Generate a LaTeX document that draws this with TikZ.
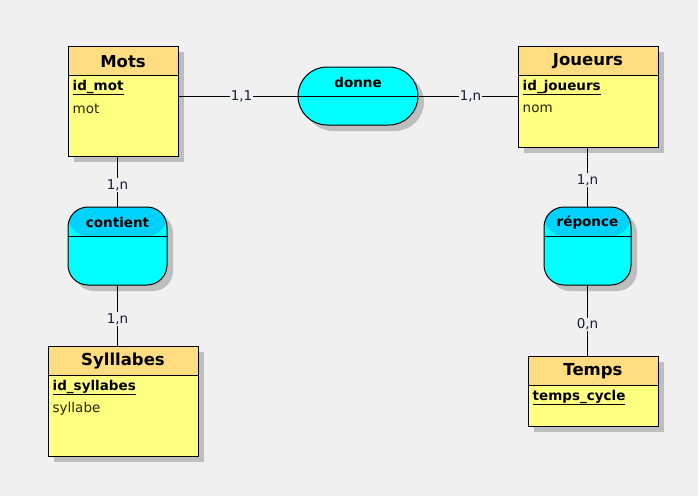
\documentclass[tikz,border=0pt]{standalone}
\usepackage{fontspec}
\setmainfont{DejaVu Sans}
\usetikzlibrary{shadows}
\definecolor{bgc}{HTML}{F0F0F0}
\definecolor{enthead}{HTML}{FFDD80}
\definecolor{entbody}{HTML}{FFFF80}
\definecolor{asshead}{HTML}{00D2FF}
\definecolor{assbody}{HTML}{00FFFF}
\definecolor{shadowc}{HTML}{BEBEBE}
\definecolor{cardc}{HTML}{141C38}
\definecolor{attrc}{HTML}{262600}
\tikzset{
  base/.style={draw=black, line width=1pt, inner sep=0pt,
    drop shadow={shadow xshift=6pt, shadow yshift=-6pt, fill=shadowc, opacity=1}},
  entity/.style={base, fill=entbody,
    path picture={
      \fill[enthead] (path picture bounding box.north west) rectangle ([yshift=-29pt]path picture bounding box.north east);
      \draw[line width=1pt] ([yshift=-29pt]path picture bounding box.north west) -- ([yshift=-29pt]path picture bounding box.north east);
    }},
  assoc/.style={base, fill=assbody,
    path picture={
      \fill[#1] (path picture bounding box.north west) rectangle ([yshift=-29pt]path picture bounding box.north east);
      \draw[line width=1pt] ([yshift=-29pt]path picture bounding box.north west) -- ([yshift=-29pt]path picture bounding box.north east);
    }},
  title/.style={font=\fontsize{16.5}{18}\selectfont\bfseries, inner sep=0pt},
  aname/.style={font=\fontsize{13.5}{15}\selectfont\bfseries, inner sep=0pt},
  key/.style={font=\fontsize{13.5}{15}\selectfont\bfseries, inner sep=0pt, anchor=west},
  attr/.style={font=\fontsize{13.5}{15}\selectfont, text=attrc, inner sep=0pt, anchor=west},
  link/.style={draw=black, line width=1pt},
  card/.style={font=\fontsize{13.5}{15}\selectfont, text=cardc, fill=bgc, inner sep=1pt},
}
\begin{document}
\begin{tikzpicture}[x=1pt, y=-1pt]
\fill[bgc] (0,0) rectangle (698,496);
\useasboundingbox (0,0) rectangle (698,496);

% entities
\node[entity, minimum width=110pt, minimum height=110pt] (mots) at (123,101) {};
\node[entity, minimum width=140pt, minimum height=101pt] (joueurs) at (588,96.5) {};
\node[entity, minimum width=150pt, minimum height=110pt] (syll) at (123,401) {};
\node[entity, minimum width=130pt, minimum height=70pt] (temps) at (593,391) {};

% associations
\node[assoc=assbody, rounded corners=29pt, minimum width=120pt, minimum height=58pt] (donne) at (358,96) {};
\node[assoc=asshead, rounded corners=20pt, minimum width=99pt, minimum height=78pt] (contient) at (117.5,246) {};
\node[assoc=asshead, rounded corners=20pt, minimum width=87pt, minimum height=78pt] (reponce) at (587.5,246) {};

% titles
\node[title] (motsT) at ([yshift=-16pt]mots.north) {Mots};
\node[title] (joueursT) at ([yshift=-16pt]joueurs.north) {Joueurs};
\node[title] (syllT) at ([yshift=-16pt]syll.north) {Sylllabes};
\node[title] (tempsT) at ([yshift=-16pt]temps.north) {Temps};
\node[aname] (donneT) at ([yshift=-15.5pt]donne.north) {donne};
\node[aname] (contientT) at ([yshift=-15.5pt]contient.north) {contient};
\node[aname] (reponceT) at ([yshift=-15.5pt]reponce.north) {réponce};

% attributes
\node[key] (motsK) at ([xshift=5pt,yshift=-42pt]mots.north west) {\underline{id\_mot}};
\node[attr] (motsA) at ([xshift=5pt,yshift=-63pt]mots.north west) {mot};
\node[key] (joueursK) at ([xshift=5pt,yshift=-42pt]joueurs.north west) {\underline{id\_joueurs}};
\node[attr] (joueursA) at ([xshift=5pt,yshift=-63pt]joueurs.north west) {nom};
\node[key] (syllK) at ([xshift=5pt,yshift=-42pt]syll.north west) {\underline{id\_syllabes}};
\node[attr] (syllA) at ([xshift=5pt,yshift=-63pt]syll.north west) {syllabe};
\node[key] (tempsK) at ([xshift=5pt,yshift=-42pt]temps.north west) {\underline{temps\_cycle}};

% connectors
\path[link] (mots.east |- donne.west) -- (donne.west) node[card, pos=0.53] (c1) {1,1};
\path[link] (donne.east) -- (joueurs.west |- donne.east) node[card, pos=0.525] (c2) {1,n};
\path[link] (mots.south -| contient.north) -- (contient.north) node[card, pos=0.57] (c3) {1,n};
\path[link] (contient.south) -- (syll.north -| contient.south) node[card, pos=0.56] (c4) {1,n};
\path[link] (joueurs.south -| reponce.north) -- (reponce.north) node[card, pos=0.55] (c5) {1,n};
\path[link] (reponce.south) -- (temps.north -| reponce.south) node[card, pos=0.556] (c6) {0,n};
\end{tikzpicture}
\end{document}
